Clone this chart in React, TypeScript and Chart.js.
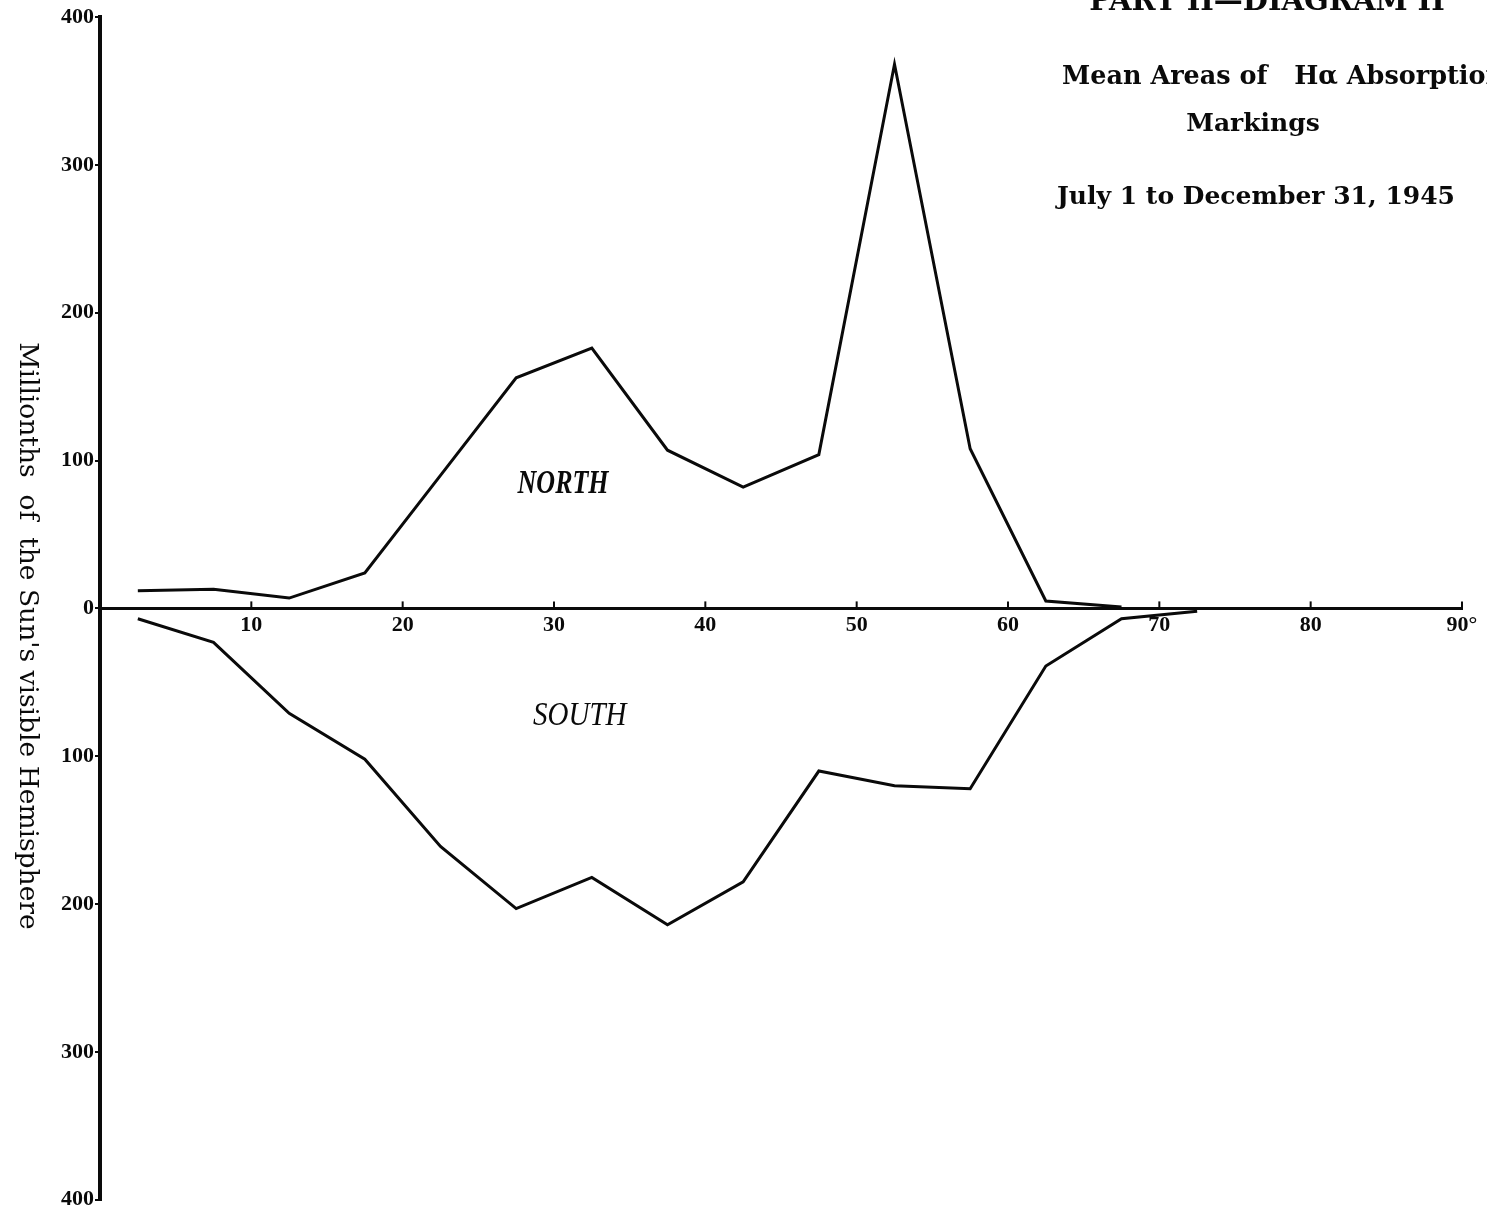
import React, { useEffect, useRef } from "react";
import { Chart, registerables } from "chart.js";

Chart.register(...registerables);

// Latitude bands (degrees, mid-points of 5° zones)
const latitudes = [2.5, 7.5, 12.5, 17.5, 22.5, 27.5, 32.5, 37.5, 42.5, 47.5, 52.5, 57.5, 62.5, 67.5, 72.5];
// Mean areas, millionths of the Sun's visible hemisphere
const northAreas: (number | null)[] = [12, 13, 7, 24, 90, 156, 176, 107, 82, 104, 368, 108, 5, 1, null];
const southAreas: (number | null)[] = [-7, -23, -71, -102, -161, -203, -182, -214, -185, -110, -120, -122, -39, -7, -2];

const yTickValues = [-400, -300, -200, -100, 0, 100, 200, 300, 400];
const xTickValues = [10, 20, 30, 40, 50, 60, 70, 80, 90];
const xTickLabels = ["10", "20", "30", "40", "50", "60", "70", "80", "90°"];

const titleTop = "PART II—DIAGRAM II";
const titleMain = "Mean Areas of   Hα Absorption";
const titleSub = "Markings";
const titleDate = "July 1 to December 31, 1945";
const yAxisTitle = "Millionths  of  the Sun's visible Hemisphere";
const northLabel = { text: "NORTH", x: 30.6, y: 84 };
const southLabel = { text: "SOUTH", x: 31.7, y: -73 };

const INK = "#0a0a0a";

function toPoints(values: (number | null)[]) {
  return latitudes
    .map((x, i) => ({ x, y: values[i] }))
    .filter((p) => p.y !== null && p.y !== undefined) as { x: number; y: number }[];
}

const annotations = {
  id: "annotations",
  afterDraw(chart: any) {
    const { ctx, scales } = chart;
    const xs = scales.x;
    const ys = scales.y;
    ctx.save();
    ctx.fillStyle = INK;
    ctx.strokeStyle = INK;

    // upward tick marks on the latitude axis
    const y0 = ys.getPixelForValue(0);
    ctx.lineWidth = 2;
    xTickValues.forEach((v) => {
      const px = xs.getPixelForValue(v);
      ctx.beginPath();
      ctx.moveTo(px, y0);
      ctx.lineTo(px, y0 - 7);
      ctx.stroke();
    });

    // title block (top right)
    ctx.textBaseline = "alphabetic";
    ctx.font = 'bold 29px "DejaVu Serif"';
    ctx.textAlign = "center";
    ctx.fillText(titleTop, 1267, 10);
    ctx.font = 'bold 25.5px "DejaVu Serif"';
    ctx.textAlign = "left";
    ctx.fillText(titleMain, 1062, 84);
    ctx.font = 'bold 25px "DejaVu Serif"';
    ctx.textAlign = "center";
    ctx.fillText(titleSub, 1253, 131);
    ctx.textAlign = "left";
    ctx.fillText(titleDate, 1057, 204);

    // vertical axis title, reading top to bottom
    ctx.save();
    ctx.translate(27, 636);
    ctx.rotate(Math.PI / 2);
    ctx.font = '26.5px "DejaVu Serif"';
    ctx.textAlign = "center";
    ctx.textBaseline = "middle";
    ctx.fillText(yAxisTitle, 0, 0);
    ctx.restore();

    // hemisphere labels
    ctx.save();
    ctx.translate(xs.getPixelForValue(northLabel.x), ys.getPixelForValue(northLabel.y));
    ctx.scale(1, 1.3);
    ctx.font = 'italic bold 26px "Liberation Serif"';
    ctx.textAlign = "center";
    ctx.textBaseline = "middle";
    ctx.fillText(northLabel.text, 0, 0);
    ctx.restore();

    ctx.save();
    ctx.translate(xs.getPixelForValue(southLabel.x), ys.getPixelForValue(southLabel.y));
    ctx.scale(1, 1.15);
    ctx.font = 'italic 29px "Liberation Serif"';
    ctx.textAlign = "center";
    ctx.textBaseline = "middle";
    ctx.fillText(southLabel.text, 0, 0);
    ctx.restore();

    ctx.restore();
  },
};

export default function App() {
  const canvasRef = useRef<HTMLCanvasElement | null>(null);

  useEffect(() => {
    document.body.style.margin = "0";
    document.body.style.overflow = "hidden";
    document.body.style.background = "#fff";
    const canvas = canvasRef.current;
    if (!canvas) return;

    const tickFont = { family: '"Liberation Serif"', weight: "bold" as const, size: 22 };

    const chart = new Chart(canvas, {
      type: "line",
      data: {
        datasets: [
          {
            label: "North",
            data: toPoints(northAreas),
            borderColor: INK,
            borderWidth: 3,
            pointRadius: 0,
            tension: 0,
            fill: false,
          },
          {
            label: "South",
            data: toPoints(southAreas),
            borderColor: INK,
            borderWidth: 3,
            pointRadius: 0,
            tension: 0,
            fill: false,
          },
        ],
      },
      options: {
        responsive: false,
        animation: false,
        devicePixelRatio: 1,
        layout: { padding: { top: 17, right: 25, bottom: 9, left: 0 } },
        plugins: {
          legend: { display: false },
          tooltip: { enabled: false },
          title: { display: false },
        },
        scales: {
          x: {
            type: "linear",
            min: 0,
            max: 90,
            position: { y: 0 } as any,
            afterBuildTicks: (scale: any) => {
              scale.ticks = xTickValues.map((v) => ({ value: v }));
            },
            ticks: {
              autoSkip: false,
              maxRotation: 0,
              padding: 4,
              color: INK,
              font: tickFont,
              callback: (_v: any, i: number) => xTickLabels[i],
            },
            grid: { display: true, drawOnChartArea: false, drawTicks: false },
            border: { display: true, color: INK, width: 3 },
          },
          y: {
            type: "linear",
            min: -400,
            max: 400,
            afterBuildTicks: (scale: any) => {
              scale.ticks = yTickValues.map((v) => ({ value: v }));
            },
            afterFit: (scale: any) => {
              scale.width = 100;
            },
            ticks: {
              padding: 1,
              color: INK,
              font: tickFont,
              callback: (v: any) => String(Math.abs(Number(v))),
            },
            grid: {
              display: true,
              drawOnChartArea: false,
              drawTicks: true,
              tickLength: 5,
              color: INK,
              lineWidth: 2,
            },
            border: { display: true, color: INK, width: 4 },
          },
        },
      },
      plugins: [annotations],
    });

    return () => chart.destroy();
  }, []);

  return (
    <div style={{ width: 1487, height: 1214, position: "relative", background: "#fff" }}>
      <canvas ref={canvasRef} width={1487} height={1214} style={{ display: "block" }} />
    </div>
  );
}
